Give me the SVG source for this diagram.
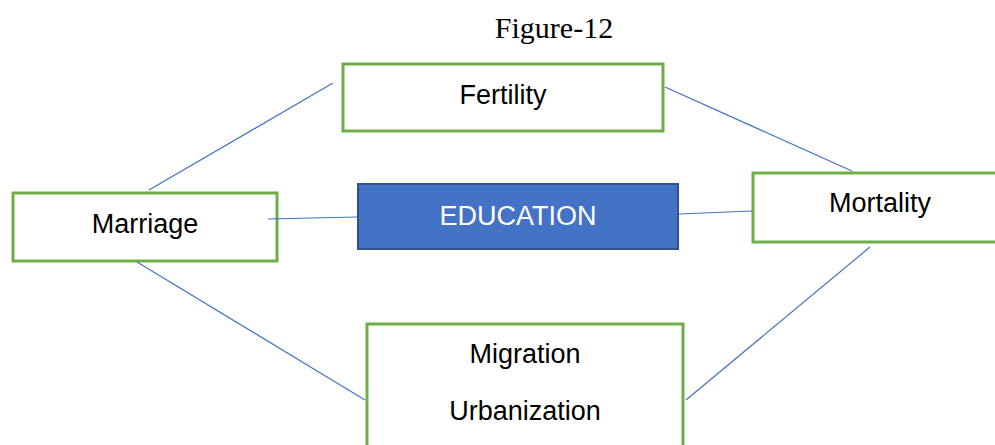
<svg xmlns="http://www.w3.org/2000/svg" width="995" height="445" viewBox="0 0 995 445">
<style>
.box{fill:#fff;stroke:#70AD47;stroke-width:3}
.edu{fill:#4472C4;stroke:#2F528F;stroke-width:2}
.lbl{font-family:"Liberation Sans","Open Sans",sans-serif;font-size:27px;fill:#000;text-anchor:middle}
.conn line{stroke:#4472C4;stroke-width:1.2}
</style>
<rect width="995" height="445" fill="#fff"/>
<text x="554" y="38" font-family="Liberation Serif,serif" font-size="30" text-anchor="middle">Figure-12</text>
<g id="fertility">
<rect class="box" x="343" y="64" width="320" height="67"/>
<text class="lbl" x="503" y="104">Fertility</text>
</g>
<g id="marriage">
<rect class="box" x="13" y="193" width="264" height="68"/>
<text class="lbl" x="145" y="233">Marriage</text>
</g>
<g id="education">
<rect class="edu" x="358" y="184" width="320" height="65"/>
<text class="lbl" x="518" y="225" style="fill:#fff">EDUCATION</text>
</g>
<g id="mortality">
<rect class="box" x="753" y="173" width="250" height="69"/>
<text class="lbl" x="880" y="212">Mortality</text>
</g>
<g id="migration">
<rect class="box" x="367" y="324" width="316" height="130"/>
<text class="lbl" x="525" y="363">Migration</text>
<text class="lbl" x="525" y="420">Urbanization</text>
</g>
<g id="connectors" class="conn">
<line x1="149" y1="190" x2="333" y2="83"/>
<line x1="665" y1="87" x2="852" y2="171"/>
<line x1="268" y1="219" x2="357" y2="217"/>
<line x1="679" y1="214" x2="752" y2="211"/>
<line x1="137" y1="262" x2="365" y2="400"/>
<line x1="870" y1="247" x2="686" y2="400"/>
</g>
</svg>
